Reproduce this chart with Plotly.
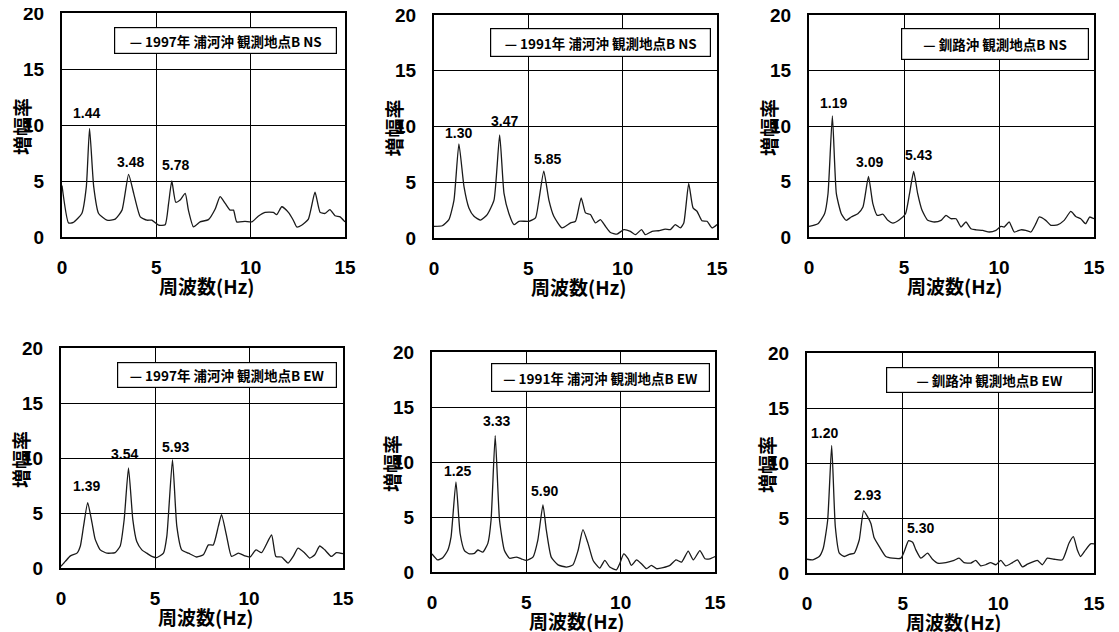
import plotly.graph_objects as go

W, H = 1119, 632

# ---------------- data ----------------
titles = ["1997年 浦河沖 観測地点B NS", "1991年 浦河沖 観測地点B NS", "釧路沖 観測地点B NS",
          "1997年 浦河沖 観測地点B EW", "1991年 浦河沖 観測地点B EW", "釧路沖 観測地点B EW"]

f1 = [0, 0.35, 0.6, 1.05, 1.29, 1.46, 1.68, 1.94, 2.38, 2.82, 3.18, 3.53, 3.8, 4.15, 4.5, 4.76, 5.12, 5.47, 5.65,
      5.82, 6.03, 6.26, 6.53, 6.7, 6.97, 7.32, 7.76, 8.12, 8.38, 8.65, 8.91, 9.09, 9.26, 9.7, 10.06, 10.4, 10.76,
      11.2, 11.38, 11.65, 12.0, 12.26, 12.44, 12.7, 13.06, 13.41, 13.68, 13.94, 14.2, 14.47, 14.74, 15]
a1 = [4.6, 1.25, 1.3, 2.1, 4.5, 9.7, 4.5, 2.1, 1.5, 1.6, 2.4, 5.6, 3.9, 1.8, 1.5, 1.5, 1.05, 1.1, 3.0,
      5.0, 3.1, 3.3, 3.9, 2.4, 0.9, 1.35, 1.55, 2.5, 3.6, 3.0, 2.4, 2.4, 1.35, 1.4, 1.35, 1.85, 2.2,
      2.2, 2.0, 2.7, 2.2, 1.5, 0.9, 1.05, 1.6, 4.0, 2.2, 2.1, 2.45, 1.9, 1.8, 1.35]

f2 = [0, 0.44, 0.79, 1.06, 1.32, 1.59, 1.85, 2.12, 2.47, 2.82, 3.18, 3.48, 3.71, 3.97, 4.24, 4.5, 5.03, 5.38,
      5.56, 5.82, 6.09, 6.35, 6.79, 7.24, 7.5, 7.8, 8.03, 8.29, 8.56, 8.82, 9.09, 9.35, 9.7, 10.06, 10.41, 10.68,
      11.0, 11.2, 11.56, 11.9, 12.26, 12.53, 12.79, 13.06, 13.24, 13.5, 13.73, 13.94, 14.2, 14.47, 14.74, 15]
a2 = [1.05, 1.1, 1.65, 3.4, 8.45, 4.6, 2.7, 1.95, 1.6, 2.1, 3.4, 9.25, 4.0, 2.2, 1.2, 1.5, 1.5, 1.8,
      3.4, 6.0, 3.4, 1.95, 0.9, 1.35, 1.5, 3.6, 2.25, 2.1, 1.35, 1.65, 1.05, 0.5, 0.35, 0.75, 0.6, 0.3,
      0.75, 0.3, 0.6, 0.65, 0.8, 0.75, 1.2, 0.9, 1.35, 4.9, 2.7, 2.4, 1.55, 1.5, 0.9, 1.2]

f3 = [0, 0.47, 0.82, 1.0, 1.23, 1.44, 1.7, 1.96, 2.22, 2.57, 2.84, 3.13, 3.36, 3.59, 3.89, 4.15, 4.41, 4.76,
      5.08, 5.29, 5.51, 5.72, 5.95, 6.25, 6.6, 6.95, 7.21, 7.47, 7.74, 8.0, 8.26, 8.52, 8.79, 9.14, 9.49, 9.84,
      10.1, 10.27, 10.54, 10.8, 11.15, 11.41, 11.68, 11.94, 12.11, 12.46, 12.73, 13.08, 13.43, 13.78, 14.04,
      14.3, 14.56, 14.77, 15]
a3 = [0.95, 1.2, 2.1, 3.9, 10.9, 3.9, 2.1, 1.5, 1.8, 2.1, 2.7, 5.45, 3.0, 1.95, 2.05, 1.5, 1.25, 1.55,
      2.1, 3.9, 5.9, 3.9, 2.4, 1.5, 1.35, 1.5, 1.95, 1.65, 1.65, 0.9, 1.35, 0.75, 0.65, 0.6, 0.45, 0.6,
      0.95, 0.9, 1.35, 0.45, 0.65, 0.6, 0.45, 1.2, 1.8, 1.5, 1.05, 1.1, 1.5, 2.3, 1.85,
      1.65, 1.2, 1.8, 1.65]

f4 = [0, 0.23, 0.5, 0.85, 1.03, 1.2, 1.42, 1.65, 1.82, 2.09, 2.44, 2.88, 3.15, 3.36, 3.59, 3.82, 4.03, 4.3,
      4.56, 4.83, 5.09, 5.45, 5.63, 5.93, 6.16, 6.42, 6.78, 7.22, 7.57, 7.84, 8.1, 8.37, 8.54, 8.81, 9.07, 9.43,
      9.78, 10.05, 10.37, 10.67, 11.2, 11.43, 11.73, 12.08, 12.35, 12.61, 12.97, 13.23, 13.5, 13.76, 14.03,
      14.38, 14.65, 15]
a4 = [0.15, 0.6, 1.1, 1.35, 2.0, 3.8, 5.95, 4.1, 2.6, 1.65, 1.35, 1.4, 2.0, 4.4, 9.1, 4.4, 2.4, 1.65,
      1.35, 1.05, 0.95, 1.35, 2.9, 9.85, 3.8, 1.65, 1.35, 1.0, 1.2, 2.1, 2.1, 3.8, 4.85, 2.9, 1.05, 1.35,
      1.1, 1.0, 1.65, 1.4, 3.0, 1.05, 1.0, 0.45, 1.05, 1.8, 1.35, 0.9, 1.2, 2.0, 1.65,
      1.05, 1.4, 1.3]

f5 = [0, 0.3, 0.57, 0.83, 1.01, 1.27, 1.49, 1.72, 1.98, 2.25, 2.43, 2.69, 2.96, 3.13, 3.35, 3.58, 3.84, 4.11,
      4.46, 4.73, 4.99, 5.35, 5.61, 5.88, 6.06, 6.32, 6.68, 7.12, 7.47, 7.74, 8.0, 8.27, 8.54, 8.89, 9.16, 9.42,
      9.78, 9.95, 10.16, 10.4, 10.57, 10.84, 11.1, 11.37, 11.63, 11.9, 12.25, 12.61, 12.93, 13.23, 13.58, 13.85,
      14.2, 14.47, 14.73, 15]
a5 = [1.65, 1.1, 1.3, 1.95, 3.2, 8.2, 3.5, 1.95, 1.65, 1.7, 2.0, 1.8, 2.6, 4.7, 12.4, 4.7, 1.95, 1.25,
      1.35, 1.2, 1.05, 1.35, 2.9, 6.1, 3.8, 1.35, 0.65, 0.45, 0.65, 1.95, 3.85, 2.6, 1.05, 0.35, 1.05, 0.45,
      0.2, 0.75, 1.65, 1.2, 0.6, 1.1, 0.75, 0.3, 0.6, 0.3, 0.4, 0.6, 1.1, 0.9, 1.9, 1.1,
      1.95, 1.2, 1.2, 1.4]

f6 = [0, 0.3, 0.64, 0.85, 1.08, 1.29, 1.48, 1.69, 1.95, 2.21, 2.47, 2.73, 2.96, 3.17, 3.34, 3.51, 3.78, 4.12,
      4.47, 4.91, 5.08, 5.31, 5.52, 5.69, 5.95, 6.3, 6.56, 6.82, 7.26, 7.69, 7.95, 8.21, 8.56, 8.82, 9.08, 9.34,
      9.6, 9.87, 10.13, 10.39, 10.74, 11.0, 11.26, 11.52, 11.87, 12.04, 12.3, 12.56, 12.91, 13.35, 13.69, 13.92,
      14.13, 14.3, 14.56, 14.82, 15]
a6 = [1.25, 1.2, 1.5, 2.25, 4.8, 11.6, 4.2, 1.8, 1.5, 1.7, 1.8, 3.0, 5.65, 5.1, 4.5, 3.2, 2.4, 1.5,
      1.35, 1.35, 1.95, 2.95, 2.8, 2.1, 1.35, 1.8, 1.25, 0.9, 0.95, 1.15, 1.35, 0.95, 0.9, 1.15, 0.65, 0.75,
      0.95, 0.75, 1.15, 0.65, 0.95, 1.2, 0.55, 0.8, 1.05, 1.15, 0.75, 1.35, 1.25, 1.2, 2.7, 3.3,
      2.1, 1.5, 2.1, 2.65, 2.65]

freqs = [f1, f2, f3, f4, f5, f6]
amps = [a1, a2, a3, a4, a5, a6]

# peak labels: text, x (Hz), y (amplitude) of label centre
peak_text = [["1.44", "3.48", "5.78"], ["1.30", "3.47", "5.85"], ["1.19", "3.09", "5.43"],
             ["1.39", "3.54", "5.93"], ["1.25", "3.33", "5.90"], ["1.20", "2.93", "5.30"]]
peak_x = [[1.32, 3.62, 6.03], [1.29, 3.71, 6.0], [1.3, 3.19, 5.78],
          [1.38, 3.36, 6.1], [1.36, 3.4, 5.97], [0.9, 3.17, 5.95]]
peak_y = [[11.1, 6.7, 6.4], [9.4, 10.45, 7.07], [12.1, 6.74, 7.4],
          [7.5, 10.4, 11.0], [9.2, 13.7, 7.4], [12.7, 7.1, 4.1]]

x_ticks = [0, 5, 10, 15]
y_ticks = [0, 5, 10, 15, 20]
x_title = "周波数(Hz)"
y_title = "増幅率"

# ---------------- layout (pixel boxes of each plot area, in page pixels) ----------------
boxes = [(62, 345, 13, 237), (434, 717, 15, 238), (809, 1094, 15, 237),
         (61, 343, 348, 568), (432, 715, 352, 572), (807, 1094, 353, 573)]
legend_boxes = [(114, 337, 27, 54), (490, 711, 28, 57), (901, 1089, 28, 60),
                (117, 337, 362, 388), (491, 710, 363, 392), (886, 1093, 367, 393)]

OFF = 8  # the page body has an 8px margin


def px(x):
    return (x - OFF) / W


def py(y):
    return 1 - (y - OFF) / H


NUM_FONT = "Liberation Sans, Arial, sans-serif"
CJK_FONT = "Noto Sans CJK JP, sans-serif"

fig = go.Figure()
layout = dict(width=W, height=H, margin=dict(l=0, r=0, t=0, b=0, autoexpand=False),
              paper_bgcolor="white", plot_bgcolor="white", showlegend=False,
              annotations=[])

for i in range(6):
    n = "" if i == 0 else str(i + 1)
    x0, x1, y0, y1 = boxes[i]
    fig.add_trace(go.Scatter(x=freqs[i], y=amps[i], mode="lines", name=titles[i],
                             line=dict(color="#1a1a1a", width=1.3, shape="spline", smoothing=0.5),
                             xaxis="x" + n, yaxis="y" + n, hoverinfo="x+y"))
    axis_common = dict(showline=True, mirror=True, linecolor="black", linewidth=2,
                       showgrid=True, gridcolor="black", gridwidth=1, zeroline=False, ticks="",
                       automargin=False, ticklabeloverflow="allow",
                       tickfont=dict(family=NUM_FONT, size=19, color="black", weight="bold"))
    layout["xaxis" + n] = dict(axis_common, domain=[px(x0), px(x1)], range=[0, 15],
                               tickvals=x_ticks, anchor="y" + n, ticklabelstandoff=12)
    layout["yaxis" + n] = dict(axis_common, domain=[py(y1), py(y0)], range=[0, 20],
                               tickvals=y_ticks, anchor="x" + n, ticklabelstandoff=12)

    # peak labels
    for t, xx, yy in zip(peak_text[i], peak_x[i], peak_y[i]):
        layout["annotations"].append(dict(text=t, x=xx, y=yy, xref="x" + n, yref="y" + n,
                                          showarrow=False, xanchor="center", yanchor="middle",
                                          font=dict(family=NUM_FONT, size=14, color="black", weight="bold")))
    # legend box
    lx0, lx1, ly0, ly1 = legend_boxes[i]
    layout["annotations"].append(dict(text="— " + titles[i], x=px((lx0 + lx1) / 2), y=py((ly0 + ly1) / 2),
                                      xref="paper", yref="paper", showarrow=False,
                                      xanchor="center", yanchor="middle",
                                      width=lx1 - lx0 - 6, height=ly1 - ly0 - 6, borderpad=2,
                                      bordercolor="black", borderwidth=1.2, bgcolor="white",
                                      align="center", valign="middle",
                                      font=dict(family=CJK_FONT, size=13.5, color="black", weight="bold")))
    # axis titles
    layout["annotations"].append(dict(text=x_title, x=px((x0 + x1) / 2 + 3), y=py(y1 + 48),
                                      xref="paper", yref="paper", showarrow=False,
                                      xanchor="center", yanchor="middle", borderpad=0,
                                      font=dict(family=CJK_FONT, size=19, color="black", weight="bold")))
    layout["annotations"].append(dict(text=y_title, x=px(x0 - 41), y=py((y0 + y1) / 2 + 2),
                                      xref="paper", yref="paper", showarrow=False, textangle=-90,
                                      xanchor="center", yanchor="middle", borderpad=0,
                                      font=dict(family=CJK_FONT, size=19, color="black", weight="bold")))

fig.update_layout(**layout)
fig.write_html("out.html")
